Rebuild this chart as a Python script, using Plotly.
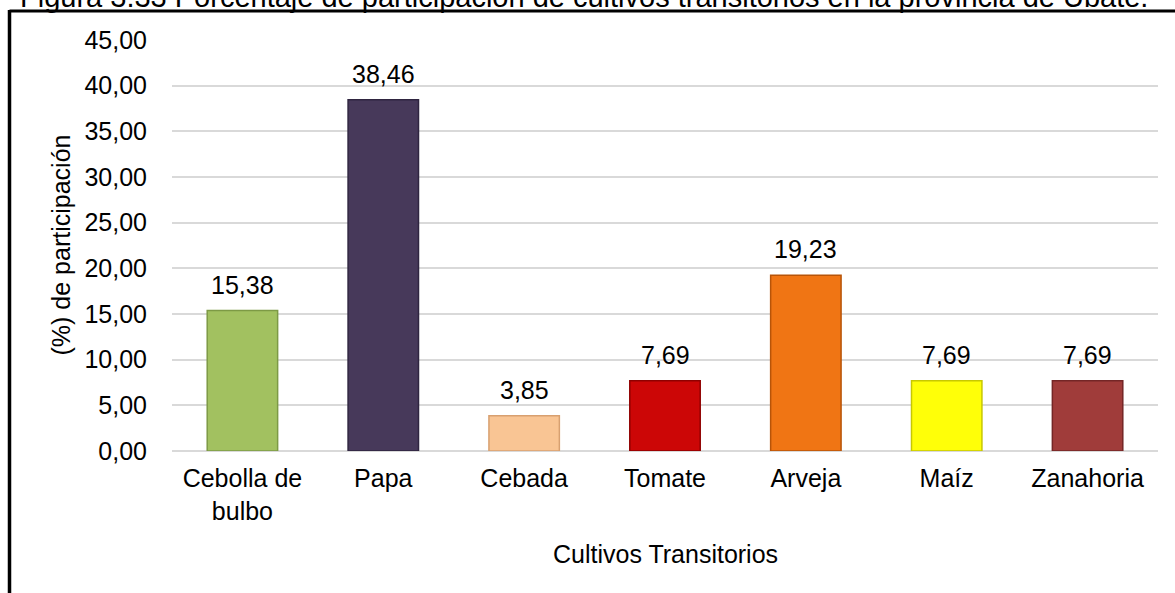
import plotly.graph_objects as go

categories = ["Cebolla de<br>bulbo", "Papa", "Cebada", "Tomate", "Arveja", "Maíz", "Zanahoria"]
values = [15.38, 38.46, 3.85, 7.69, 19.23, 7.69, 7.69]
bar_colors = ["#a2c160", "#47395a", "#f9c594", "#cc0606", "#f07514", "#ffff08", "#a03c3a"]
border_colors = ["#7d9a45", "#2f2540", "#d8a070", "#8f0000", "#b85408", "#c8c800", "#742626"]
y_ticks = [0, 5, 10, 15, 20, 25, 30, 35, 40, 45]

FONT = "Arial, 'Liberation Sans', sans-serif"
W, H = 1175, 593
ML, MR, MT, MB = 172, 17, 40, 142
PW, PH = W - ML - MR, H - MT - MB


def px_x(p):
    return (p - ML) / PW


def px_y(p):
    return (H - MB - p) / PH


fig = go.Figure()
fig.add_trace(go.Bar(
    x=categories, y=values,
    marker=dict(color=bar_colors, line=dict(color=border_colors, width=1.5)),
    width=0.5,
    hoverinfo="skip",
))

annotations = []
for c, v in zip(categories, values):
    annotations.append(dict(
        x=c, y=v, xref="x", yref="y", text=f"{v:.2f}".replace(".", ","),
        showarrow=False, yanchor="bottom", yshift=10,
        font=dict(family=FONT, size=25, color="black"),
    ))

annotations.append(dict(
    x=px_x(18), y=px_y(15), xref="paper", yref="paper", xanchor="left", yanchor="bottom",
    text="Figura 3.33 Porcentaje de participación de cultivos transitorios en la provincia de Ubaté.",
    showarrow=False, font=dict(family=FONT, size=29, color="black"),
))
annotations.append(dict(
    x=px_x(60), y=0.5, xref="paper", yref="paper", xanchor="center", yanchor="middle",
    text="(%) de participación", textangle=-90,
    showarrow=False, font=dict(family=FONT, size=25, color="black"),
))
annotations.append(dict(
    x=0.5, y=px_y(554), xref="paper", yref="paper", xanchor="center", yanchor="middle",
    text="Cultivos Transitorios",
    showarrow=False, font=dict(family=FONT, size=25, color="black"),
))

shapes = [
    dict(type="line", xref="paper", yref="paper", x0=px_x(9.5), x1=px_x(1180), y0=px_y(11), y1=px_y(11),
         line=dict(color="black", width=3)),
    dict(type="line", xref="paper", yref="paper", x0=px_x(9.5), x1=px_x(9.5), y0=px_y(10), y1=px_y(600),
         line=dict(color="black", width=3.5)),
]

fig.update_layout(
    width=W, height=H,
    margin=dict(l=ML, r=MR, t=MT, b=MB, autoexpand=False),
    paper_bgcolor="white", plot_bgcolor="white",
    separators=",.",
    showlegend=False,
    bargap=0.5,
    font=dict(family=FONT, size=25, color="black"),
    annotations=annotations,
    shapes=shapes,
    xaxis=dict(
        showgrid=False, showline=False, zeroline=False, ticks="",
        ticklabelstandoff=10,
        tickfont=dict(family=FONT, size=25, color="black"),
    ),
    yaxis=dict(
        range=[0, 45], tickvals=y_ticks, tickformat=".2f",
        showgrid=True, gridcolor="#d9d9d9", gridwidth=1.5,
        zeroline=True, zerolinecolor="#d9d9d9", zerolinewidth=1.5,
        showline=False, ticks="", ticklabelstandoff=24,
        tickfont=dict(family=FONT, size=25, color="black"),
    ),
)

fig.write_html(
    "out.html",
    config={"displayModeBar": False},
    post_script="document.body.style.margin='0';document.body.style.overflow='hidden';",
)
